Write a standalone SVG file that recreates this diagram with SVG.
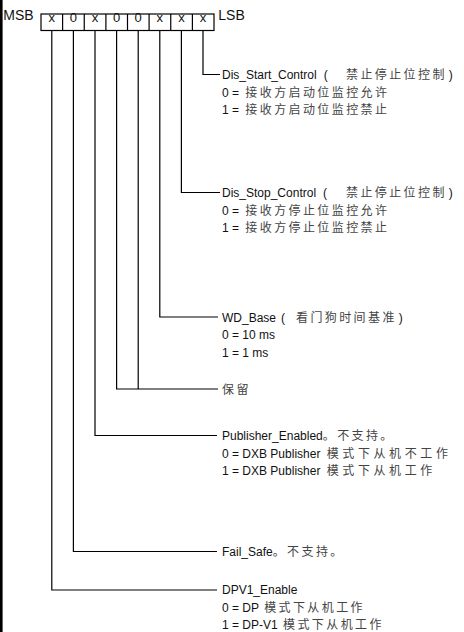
<svg xmlns="http://www.w3.org/2000/svg" width="464" height="632" viewBox="0 0 464 632">
<style>
  text { font-family: "Liberation Sans", Arial, "Noto Sans CJK SC", sans-serif; font-size: 12px; fill: #111; }
  .c { font-family: "Noto Sans CJK SC", "Noto Sans CJK TC", sans-serif; font-size: 12px; letter-spacing: 2.4px; fill: #444; }
  .w { letter-spacing: 3.6px; }
  .big { font-size: 14px; }
  .cell { text-anchor: middle; font-size: 13px; }
  .ln { fill: none; stroke: #000; stroke-width: 1.2; }
</style>
<rect x="0" y="0" width="2.6" height="632" fill="#000"/>

<g id="register">
  <text class="big" x="3.3" y="20">MSB</text>
  <rect class="ln" x="41" y="14" width="173" height="16.5"/>
  <path class="ln" d="M62.6 14V30.5M84.25 14V30.5M105.9 14V30.5M127.5 14V30.5M149.1 14V30.5M170.75 14V30.5M192.4 14V30.5"/>
  <text class="cell" x="51.8" y="21.5">x</text>
  <text class="cell" x="73.4" y="21.5">0</text>
  <text class="cell" x="95" y="21.5">x</text>
  <text class="cell" x="116.6" y="21.5">0</text>
  <text class="cell" x="138.2" y="21.5">0</text>
  <text class="cell" x="159.8" y="21.5">x</text>
  <text class="cell" x="181.4" y="21.5">x</text>
  <text class="cell" x="203" y="21.5">x</text>
  <text class="big" x="218.3" y="20">LSB</text>
</g>

<g id="connectors">
  <path class="ln" d="M203 30.5V74.5H220"/>
  <path class="ln" d="M181.4 30.5V192.5H220"/>
  <path class="ln" d="M159.8 30.5V317H218"/>
  <path class="ln" d="M138.2 30.5V389"/>
  <path class="ln" d="M116.6 30.5V389H218"/>
  <path class="ln" d="M95 30.5V435.5H217"/>
  <path class="ln" d="M73.4 30.5V551.5H217"/>
  <path class="ln" d="M51.8 30.5V590H217"/>
</g>

<g id="bit0">
  <text x="222" y="79">Dis_Start_Control<tspan dx="7">(</tspan><tspan class="c" x="346">禁止停止位控制</tspan><tspan dx="2">)</tspan></text>
  <text x="222" y="96.5">0 = <tspan class="c" dx="3">接收方启动位监控允许</tspan></text>
  <text x="222" y="114">1 = <tspan class="c" dx="3">接收方启动位监控禁止</tspan></text>
</g>

<g id="bit1">
  <text x="222" y="197">Dis_Stop_Control<tspan dx="7">(</tspan><tspan class="c" x="346">禁止停止位控制</tspan><tspan dx="2">)</tspan></text>
  <text x="222" y="214.5">0 = <tspan class="c" dx="3">接收方停止位监控允许</tspan></text>
  <text x="222" y="232">1 = <tspan class="c" dx="3">接收方停止位监控禁止</tspan></text>
</g>

<g id="bit2">
  <text x="222" y="321.5">WD_Base<tspan dx="5">(</tspan><tspan class="c" x="296">看门狗时间基准</tspan><tspan dx="2">)</tspan></text>
  <text x="222" y="339">0 = 10 ms</text>
  <text x="222" y="356.5">1 = 1 ms</text>
</g>

<g id="bit3-4">
  <text x="222" y="393.5"><tspan class="c">保留</tspan></text>
</g>

<g id="bit5">
  <text x="222" y="440">Publisher_Enabled<tspan class="c">。不支持。</tspan></text>
  <text x="222" y="457.5">0 = DXB Publisher <tspan class="c w" dx="3">模式下从机不工作</tspan></text>
  <text x="222" y="475">1 = DXB Publisher <tspan class="c w" dx="3">模式下从机工作</tspan></text>
</g>

<g id="bit6">
  <text x="222" y="556">Fail_Safe<tspan class="c">。不支持。</tspan></text>
</g>

<g id="bit7">
  <text x="222" y="594">DPV1_Enable</text>
  <text x="222" y="611.5">0 = DP <tspan class="c" dx="2">模式下从机工作</tspan></text>
  <text x="222" y="629">1 = DP-V1 <tspan class="c" dx="2">模式下从机工作</tspan></text>
</g>
</svg>
